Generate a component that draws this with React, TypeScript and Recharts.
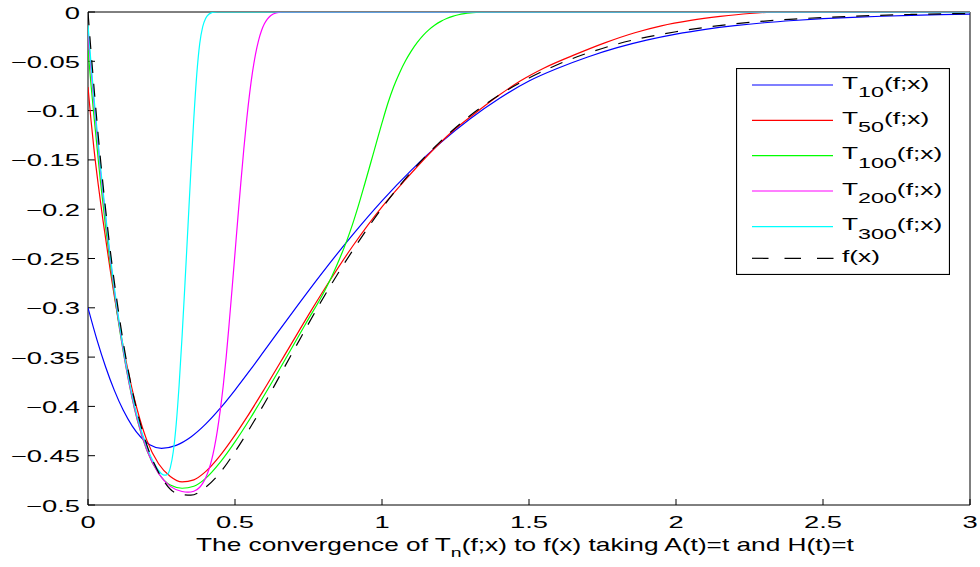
import React from 'react';
import { LineChart, Line, XAxis, YAxis, Legend } from 'recharts';

const FONT = '"Liberation Sans", Arial, Helvetica, sans-serif';
const SX = 1.66;

// ---------- axis ticks ----------
const xTicks = [0, 0.5, 1, 1.5, 2, 2.5, 3];
const yTicks = [-0.5, -0.45, -0.4, -0.35, -0.3, -0.25, -0.2, -0.15, -0.1, -0.05, 0];

// ---------- series ----------
const t10X = [0, 0.03, 0.06, 0.09, 0.12, 0.15, 0.18, 0.21, 0.25, 0.3, 0.35, 0.4, 0.45, 0.5, 0.55, 0.6, 0.7, 0.8, 0.9, 1.0, 1.1, 1.2, 1.3, 1.4, 1.5, 1.6, 1.7, 1.8, 1.9, 2.0, 2.1, 2.2, 2.3, 2.4, 2.5, 2.6, 2.7, 2.8, 2.9, 3.0];
const t10Y = [-0.3, -0.332, -0.36, -0.384, -0.404, -0.4197, -0.4313, -0.4389, -0.4425, -0.4395, -0.431, -0.418, -0.4018, -0.3834, -0.3638, -0.3435, -0.3028, -0.2633, -0.226, -0.1915, -0.1603, -0.1325, -0.1083, -0.0875, -0.07, -0.0568, -0.0456, -0.0362, -0.0286, -0.0225, -0.0177, -0.0139, -0.0109, -0.0086, -0.0068, -0.0054, -0.0043, -0.0034, -0.0027, -0.0021];

const t50X = [0, 0.01, 0.02, 0.035, 0.05, 0.075, 0.1, 0.13, 0.167, 0.2, 0.24, 0.28, 0.32, 0.36, 0.4, 0.45, 0.5, 0.54, 0.6, 0.68, 0.76, 0.82, 0.9, 1.0, 1.08, 1.16, 1.24, 1.32, 1.4, 1.47, 1.55, 1.65, 1.76, 1.86, 1.95, 2.05, 2.15, 2.25, 2.35, 3.0];
const t50Y = [-0.076, -0.109, -0.138, -0.1755, -0.2093, -0.2605, -0.3068, -0.3548, -0.4029, -0.4342, -0.4582, -0.471, -0.4765, -0.4745, -0.4662, -0.4497, -0.4292, -0.4112, -0.3824, -0.3424, -0.3024, -0.2736, -0.2376, -0.1976, -0.17, -0.144, -0.121, -0.102, -0.084, -0.07, -0.057, -0.044, -0.031, -0.021, -0.014, -0.0085, -0.0045, -0.0015, 0, 0];

const t100X = [0, 0.01, 0.02, 0.041, 0.06, 0.08, 0.1, 0.13, 0.167, 0.2, 0.24, 0.28, 0.32, 0.36, 0.4, 0.45, 0.5, 0.55, 0.6, 0.676, 0.74, 0.806, 0.83, 0.86, 0.88, 0.9, 0.92, 0.94, 0.96, 0.98, 1.0, 1.02, 1.04, 1.06, 1.08, 1.1, 1.12, 1.14, 1.16, 1.18, 1.2, 1.22, 1.24, 1.26, 1.28, 1.3, 1.32, 1.34, 1.36, 3.0];
const t100Y = [-0.038, -0.073, -0.105, -0.168, -0.2184, -0.2654, -0.3074, -0.3614, -0.4132, -0.4446, -0.4678, -0.4798, -0.483, -0.481, -0.473, -0.4565, -0.436, -0.413, -0.3885, -0.3497, -0.3164, -0.2821, -0.2677, -0.2473, -0.2321, -0.2151, -0.1961, -0.1757, -0.1547, -0.1335, -0.1125, -0.0925, -0.0755, -0.0615, -0.0495, -0.0395, -0.0309, -0.0237, -0.0179, -0.0132, -0.0095, -0.0066, -0.0044, -0.0028, -0.0017, -0.0009, -0.0004, -0.0001, 0, 0];

const t200X = [0, 0.01, 0.02, 0.044, 0.07, 0.1, 0.13, 0.167, 0.2, 0.24, 0.28, 0.32, 0.34, 0.36, 0.38, 0.39, 0.4, 0.41, 0.42, 0.43, 0.44, 0.45, 0.46, 0.47, 0.48, 0.49, 0.5, 0.51, 0.52, 0.53, 0.54, 0.55, 0.56, 0.57, 0.58, 0.59, 0.6, 0.61, 0.62, 0.63, 0.64, 0.65, 0.66, 3.0];
const t200Y = [-0.02, -0.057, -0.0915, -0.166, -0.2362, -0.3052, -0.3607, -0.4125, -0.4439, -0.4679, -0.4811, -0.4863, -0.487, -0.486, -0.482, -0.478, -0.4725, -0.465, -0.455, -0.4415, -0.4245, -0.4035, -0.379, -0.35, -0.3165, -0.281, -0.2445, -0.208, -0.1725, -0.139, -0.1085, -0.082, -0.06, -0.0425, -0.029, -0.019, -0.012, -0.0072, -0.004, -0.0021, -0.001, -0.0004, 0, 0];

const t300X = [0, 0.01, 0.02, 0.044, 0.07, 0.1, 0.13, 0.167, 0.2, 0.23, 0.25, 0.26, 0.27, 0.28, 0.29, 0.3, 0.31, 0.32, 0.33, 0.34, 0.35, 0.36, 0.37, 0.38, 0.39, 0.4, 0.41, 0.42, 0.43, 0.44, 3.0];
const t300Y = [-0.013, -0.051, -0.086, -0.1616, -0.2331, -0.3021, -0.3576, -0.4094, -0.4408, -0.4603, -0.4683, -0.4698, -0.469, -0.462, -0.446, -0.418, -0.378, -0.329, -0.2745, -0.2175, -0.1605, -0.1075, -0.063, -0.032, -0.015, -0.0065, -0.0025, -0.0008, -0.0002, 0, 0];

const fX = [0, 0.01, 0.02, 0.035, 0.05, 0.075, 0.1, 0.125, 0.15, 0.175, 0.2, 0.25, 0.3, 0.35, 0.4, 0.45, 0.5, 0.6, 0.7, 0.8, 0.9, 1.0, 1.1, 1.2, 1.3, 1.4, 1.5, 1.6, 1.8, 2.0, 2.2, 2.4, 2.6, 2.8, 3.0];
const fY = [0, -0.039, -0.075, -0.126, -0.172, -0.24, -0.296, -0.344, -0.383, -0.414, -0.439, -0.472, -0.488, -0.49, -0.482, -0.467, -0.446, -0.397, -0.343, -0.29, -0.242, -0.199, -0.162, -0.131, -0.105, -0.084, -0.067, -0.053, -0.0325, -0.02, -0.012, -0.0072, -0.0043, -0.0025, -0.0015];

const legendSubs = ['10', '50', '100', '200', '300'];
const xLabelParts = ['The convergence of T', 'n', '(f;x) to f(x) taking A(t)=t and H(t)=t'];

// ---------- styles ----------
const COLORS = ['#0000ff', '#ff0000', '#00ff00', '#ff00ff', '#00ffff'];
const LEGEND_ROWS = [17, 52.3, 87.7, 123, 158.7, 190.3];

const pts = (xs: number[], ys: number[]) => xs.map((x, i) => ({ x, y: ys[i] }));
const fmt = (v: number) => (v === 0 ? '0' : v < 0 ? '\u2212' + String(Math.abs(v)) : String(v));

function XTick(p: any) {
  const { x, y, payload } = p;
  return (
    <text transform={`translate(${x},${y + 29}) scale(${SX},1)`} textAnchor="middle" fontFamily={FONT} fontSize={16.5} fill="#000">
      {fmt(payload.value)}
    </text>
  );
}

function YTick(p: any) {
  const { x, y, payload } = p;
  return (
    <text transform={`translate(${x - 15},${y + 6.5}) scale(${SX},1)`} textAnchor="end" fontFamily={FONT} fontSize={16.5} fill="#000">
      {fmt(payload.value)}
    </text>
  );
}

function XLabel(p: any) {
  const vb = p && p.viewBox && typeof p.viewBox.x === 'number' ? p.viewBox : { x: 88, y: 505, width: 882, height: 62 };
  const cx = vb.x + vb.width / 2 - 4;
  const by = vb.y + 46;
  return (
    <text transform={`translate(${cx},${by}) scale(1.5,1)`} textAnchor="middle" fontFamily={FONT} fontSize={17.5} fill="#000">
      {xLabelParts[0]}
      <tspan dy={6} fontSize={13}>{xLabelParts[1]}</tspan>
      <tspan dy={-6}>{xLabelParts[2]}</tspan>
    </text>
  );
}

function LegendBox() {
  return (
    <svg width={214} height={207} style={{ display: 'block' }}>
      <rect x={0.5} y={0.5} width={213} height={206} fill="#fff" stroke="#000" strokeWidth={1.2} />
      {legendSubs.map((s, i) => (
        <g key={s}>
          <line x1={16} x2={97} y1={LEGEND_ROWS[i]} y2={LEGEND_ROWS[i]} stroke={COLORS[i]} strokeWidth={1.2} />
          <text transform={`translate(106,${LEGEND_ROWS[i] + 3.5}) scale(1.55,1)`} fontFamily={FONT} fontSize={17} fill="#000">
            T<tspan dy={8.4} fontSize={15}>{s}</tspan>
            <tspan dy={-8.4}>(f;x)</tspan>
          </text>
        </g>
      ))}
      <line x1={16} x2={97.5} y1={LEGEND_ROWS[5]} y2={LEGEND_ROWS[5]} stroke="#000" strokeWidth={1.2} strokeDasharray="16.5 16" />
      <text transform={`translate(106,${LEGEND_ROWS[5] + 4}) scale(1.55,1)`} fontFamily={FONT} fontSize={17} fill="#000">
        f(x)
      </text>
    </svg>
  );
}

export default function App() {
  const series = [pts(t10X, t10Y), pts(t50X, t50Y), pts(t100X, t100Y), pts(t200X, t200Y), pts(t300X, t300Y)];
  const fData = pts(fX, fY);
  return (
    <div style={{ position: 'absolute', left: 0, top: 0, width: 980, height: 567, background: '#fff' }}>
      <LineChart width={980} height={567} margin={{ top: 11, right: 9, bottom: 0, left: 0 }}>
        <XAxis
          type="number"
          dataKey="x"
          domain={[0, 3]}
          ticks={xTicks}
          interval={0}
          allowDataOverflow
          height={62}
          stroke="#000"
          tickSize={-6}
          tickMargin={0}
          tick={(p: any) => <XTick {...p} />}
          label={<XLabel />}
        />
        <XAxis
          xAxisId="top"
          orientation="top"
          type="number"
          domain={[0, 3]}
          ticks={xTicks}
          interval={0}
          height={1}
          stroke="#000"
          tickSize={-6}
          tick={false}
        />
        <YAxis
          type="number"
          domain={[-0.5, 0]}
          ticks={yTicks}
          interval={0}
          allowDataOverflow
          width={88}
          stroke="#000"
          tickSize={-7}
          tickMargin={0}
          tick={(p: any) => <YTick {...p} />}
        />
        <YAxis
          yAxisId="right"
          orientation="right"
          type="number"
          domain={[-0.5, 0]}
          ticks={yTicks}
          interval={0}
          width={1}
          stroke="#000"
          tickSize={-7}
          tick={false}
        />
        {series.map((d, i) => (
          <Line
            key={legendSubs[i]}
            data={d}
            dataKey="y"
            type="monotone"
            stroke={COLORS[i]}
            strokeWidth={1.2}
            dot={false}
            activeDot={false}
            isAnimationActive={false}
            zIndex={600}
          />
        ))}
        <Line
          data={fData}
          dataKey="y"
          type="monotone"
          stroke="#000"
          strokeWidth={1.2}
          strokeDasharray="13 11"
          dot={false}
          activeDot={false}
          isAnimationActive={false}
          zIndex={600}
        />
        <Legend
          verticalAlign="middle"
          align="center"
          layout="horizontal"
          content={() => <LegendBox />}
          wrapperStyle={{ left: 736, top: 68, width: 214, height: 207 }}
        />
      </LineChart>
    </div>
  );
}
